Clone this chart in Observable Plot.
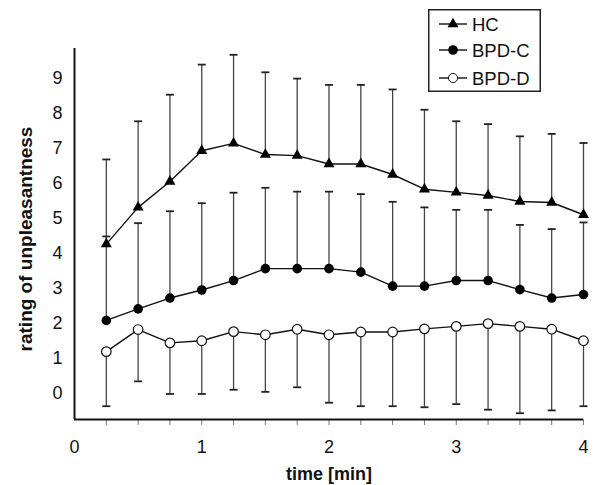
<!DOCTYPE html>
<html>
<head>
<meta charset="utf-8">
<script src="https://cdn.jsdelivr.net/npm/d3@7"></script>
<script src="https://cdn.jsdelivr.net/npm/@observablehq/plot@0.6"></script>
<style>
  html, body { margin: 0; padding: 0; background: white; }
  #wrap { position: relative; width: 600px; height: 485px; }
  #legend { position: absolute; left: 428px; top: 9px; }
</style>
</head>
<body>
<div id="wrap"></div>
<script>
// ---- data ----
const time = [0.25, 0.5, 0.75, 1.0, 1.25, 1.5, 1.75, 2.0, 2.25, 2.5, 2.75, 3.0, 3.25, 3.5, 3.75, 4.0];
const seriesNames = ["HC", "BPD-C", "BPD-D"];
const hcMean    = [4.27, 5.32, 6.06, 6.94, 7.15, 6.83, 6.80, 6.56, 6.56, 6.26, 5.84, 5.75, 5.66, 5.49, 5.46, 5.11];
const hcUpper   = [6.69, 7.78, 8.54, 9.40, 9.68, 9.18, 9.00, 8.82, 8.82, 8.69, 8.11, 7.78, 7.70, 7.35, 7.42, 7.16];
const bpdcMean  = [2.09, 2.42, 2.73, 2.96, 3.23, 3.57, 3.57, 3.57, 3.47, 3.07, 3.07, 3.23, 3.23, 2.97, 2.73, 2.83];
const bpdcUpper = [4.49, 4.87, 5.21, 5.44, 5.74, 5.88, 5.77, 5.77, 5.70, 5.48, 5.32, 5.25, 5.25, 4.82, 4.70, 4.89];
const bpddMean  = [1.20, 1.83, 1.45, 1.51, 1.77, 1.68, 1.84, 1.68, 1.76, 1.76, 1.85, 1.92, 2.00, 1.92, 1.84, 1.51];
const bpddLower = [-0.36, 0.35, -0.01, -0.01, 0.11, 0.05, 0.18, -0.26, -0.36, -0.36, -0.39, -0.30, -0.46, -0.56, -0.48, -0.36];
const yTicks = [0, 1, 2, 3, 4, 5, 6, 7, 8, 9];
const xLabelTicks = [0, 1, 2, 3, 4];
const xMinorTicks = time;
const xDomain = [0, 4];
const yDomain = [-0.74, 9.86];
const xTitle = "time [min]";
const yTitle = "rating of unpleasantness";

// ---- build table ----
const means = [hcMean, bpdcMean, bpddMean];
const bars = [hcUpper, bpdcUpper, bpddLower];
const rows = [];
seriesNames.forEach((s, k) => {
  time.forEach((t, i) => rows.push({time: t, series: s, mean: means[k][i], bar: bars[k][i]}));
});

const FONT = '"Liberation Sans", Arial, Helvetica, sans-serif';

// error-bar cap symbol: a short horizontal line
const capSymbol = {
  draw(context, size) {
    const r = Math.sqrt(size / Math.PI);
    context.moveTo(-r, 0);
    context.lineTo(r, 0);
  }
};

const chart = Plot.plot({
  width: 600,
  height: 485,
  marginLeft: 74,
  marginRight: 17,
  marginTop: 48,
  marginBottom: 66,
  style: {fontFamily: FONT, fontSize: "18px", color: "#111", background: "white", overflow: "visible"},
  x: {domain: xDomain},
  y: {domain: yDomain},
  marks: [
    // error bars
    Plot.ruleX(rows, {x: "time", y1: "mean", y2: "bar", stroke: "#444", strokeWidth: 1.3}),
    Plot.dot(rows, {x: "time", y: "bar", symbol: capSymbol, r: 4, stroke: "#222", fill: "none", strokeWidth: 1.8}),
    // axes
    Plot.axisX({ticks: xMinorTicks, tickSize: 6, tickFormat: () => "", stroke: "#777", strokeWidth: 1, label: null}),
    Plot.axisX({ticks: xLabelTicks, tickSize: 0, tickPadding: 21, tickFormat: d => String(d), fontSize: 18, label: null}),
    Plot.axisY({ticks: yTicks, tickSize: 0, tickPadding: 12, tickFormat: d => String(d), fontSize: 18, label: null}),
    Plot.ruleY([yDomain[0]], {stroke: "#111", strokeWidth: 2}),
    Plot.ruleX([xDomain[0]], {y1: yDomain[0], y2: yDomain[1], stroke: "#111", strokeWidth: 2}),
    // lines
    Plot.line(rows, {x: "time", y: "mean", z: "series", stroke: "#111", strokeWidth: 1.4}),
    // markers
    Plot.dot(rows.filter(d => d.series === "HC"), {x: "time", y: "mean", symbol: "triangle", r: 4.1, fill: "#000", stroke: "none"}),
    Plot.dot(rows.filter(d => d.series === "BPD-C"), {x: "time", y: "mean", r: 4.8, fill: "#000", stroke: "none"}),
    Plot.dot(rows.filter(d => d.series === "BPD-D"), {x: "time", y: "mean", r: 4.8, fill: "#fff", stroke: "#111", strokeWidth: 1.2}),
    // titles
    Plot.text([xTitle], {frameAnchor: "bottom", dy: 55, text: d => d, textAnchor: "middle", fontWeight: "bold", fontSize: 18, lineAnchor: "middle", fill: "#111"}),
    Plot.text([yTitle], {frameAnchor: "left", dx: -49, dy: 5, rotate: -90, text: d => d, textAnchor: "middle", fontWeight: "bold", fontSize: 19, lineAnchor: "middle", fill: "#111"})
  ]
});

const wrap = document.getElementById("wrap");
wrap.appendChild(chart);

// ---- legend ----
const symbols = [d3.symbolTriangle, d3.symbolCircle, d3.symbolCircle];
const symSizes = [52, 72, 66];
const symFill = ["#000", "#000", "#fff"];
const lw = 113, lh = 83;
const legend = d3.create("svg")
  .attr("id", "legend")
  .attr("width", lw)
  .attr("height", lh)
  .style("font-family", FONT);
legend.append("rect")
  .attr("x", 0.75).attr("y", 0.75)
  .attr("width", lw - 1.5).attr("height", lh - 1.5)
  .attr("fill", "white").attr("stroke", "#222").attr("stroke-width", 1.5);
const rowY = [15, 41, 69];
seriesNames.forEach((name, i) => {
  const g = legend.append("g").attr("transform", `translate(0,${rowY[i]})`);
  g.append("line").attr("x1", 11).attr("x2", 39).attr("y1", 0).attr("y2", 0)
    .attr("stroke", "#111").attr("stroke-width", 1.4);
  g.append("path").attr("transform", "translate(25,0)")
    .attr("d", d3.symbol(symbols[i], symSizes[i])())
    .attr("fill", symFill[i]).attr("stroke", i === 2 ? "#111" : "none").attr("stroke-width", 1);
  g.append("text").attr("x", 44).attr("y", 0).attr("dy", "0.36em")
    .attr("font-size", 18.5).attr("fill", "#111").text(name);
});
wrap.appendChild(legend.node());
</script>
</body>
</html>
